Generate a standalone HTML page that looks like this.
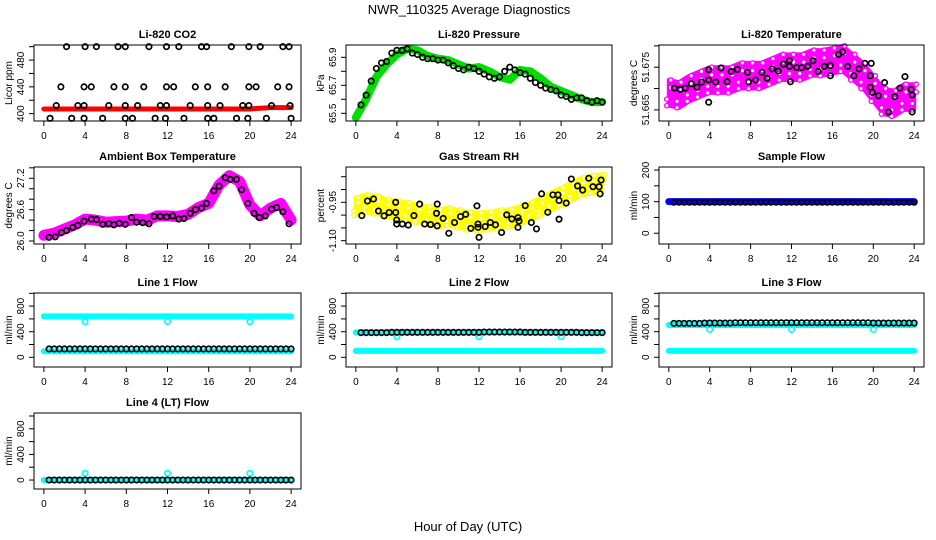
<!DOCTYPE html>
<html><head><meta charset="utf-8"><style>
html,body{margin:0;padding:0;background:#fff;}
svg{display:block;font-family:"Liberation Sans",sans-serif;}
</style></head><body>
<svg id="chart" width="936" height="540" viewBox="0 0 936 540" xmlns="http://www.w3.org/2000/svg">
<text x="469" y="14" text-anchor="middle" font-size="13">NWR_110325  Average Diagnostics</text>
<text x="468" y="531" text-anchor="middle" font-size="13">Hour of Day (UTC)</text>
</svg>
<script>
// ---------- data ----------
const hours = [0,1,2,3,4,5,6,7,8,9,10,11,12,13,14,15,16,17,18,19,20,21,22,23,24];
const halfHours = [0.5,1,1.5,2,2.5,3,3.5,4,4.5,5,5.5,6,6.5,7,7.5,8,8.5,9,9.5,10,10.5,11,11.5,12,12.5,13,13.5,14,14.5,15,15.5,16,16.5,17,17.5,18,18.5,19,19.5,20,20.5,21,21.5,22,22.5,23,23.5,24];
const xTicks = [0,4,8,12,16,20,24];

const co2Red = [407,407,407,407,407,407,407,407,407,407,407,407,407,407,407,407,407,407,407,407,407,408,409,409,409];
const co2Times = [2.2,4.0,5.1,7.2,7.9,10.2,11.9,13.1,15.3,15.8,18.2,19.9,21.0,23.2,23.8,
 1.65,3.9,4.6,6.8,7.9,9.7,11.9,12.6,14.7,15.9,17.6,19.9,20.6,22.7,23.8,
 1.2,3.3,3.9,6.3,7.9,9.1,11.3,11.9,14.2,15.9,17.1,19.3,19.9,22.1,23.9,
 0.6,2.7,3.9,5.7,7.9,8.6,10.8,11.8,13.6,15.9,16.5,18.7,19.8,21.6,24.0];
const co2Vals = [500,500,500,500,500,500,500,500,500,500,500,500,500,500,500,
 440,440,440,440,440,440,440,440,440,440,440,440,440,440,440,
 412,412,412,412,412,412,412,412,412,412,412,412,412,412,412,
 393,393,393,393,393,393,393,393,393,393,393,393,393,393,393];

const presGreen = [65.47,65.60,65.76,65.85,65.92,65.96,65.95,65.91,65.89,65.88,65.85,65.82,65.83,65.80,65.76,65.74,65.81,65.80,65.75,65.69,65.66,65.63,65.60,65.58,65.58];
const presBlack = [65.56,65.63,65.73,65.82,65.86,65.87,65.93,65.95,65.95,65.96,65.93,65.92,65.90,65.89,65.89,65.88,65.88,65.86,65.84,65.82,65.81,65.83,65.82,65.80,65.78,65.76,65.75,65.76,65.80,65.83,65.81,65.79,65.78,65.75,65.72,65.70,65.68,65.67,65.66,65.63,65.62,65.60,65.61,65.61,65.59,65.58,65.59,65.58];

const tempCenter = [51.669,51.6685,51.670,51.671,51.672,51.672,51.672,51.673,51.673,51.673,51.674,51.675,51.675,51.675,51.676,51.676,51.6765,51.677,51.675,51.673,51.670,51.667,51.6665,51.668,51.668];
const tempSpread = [0.003,0.003,0.003,0.003,0.003,0.003,0.003,0.003,0.003,0.003,0.003,0.003,0.003,0.003,0.003,0.003,0.003,0.003,0.003,0.003,0.003,0.003,0.003,0.003,0.003];
const tempTimes = [0.55,1.1,1.6,2.2,2.75,3.2,3.9,3.9,3.9,4.6,5.1,5.7,6.1,6.7,7.7,7.8,8.5,9.1,9.6,10.1,10.7,11.2,11.8,11.9,11.8,12.5,13.0,13.6,14.1,14.6,15.2,15.8,15.8,16.6,17.0,17.5,18.1,18.6,19.2,19.8,19.7,19.7,19.9,20.5,21.1,21.5,22.1,22.6,23.1,23.7,23.8,23.8];
const tempVals = [51.6701,51.6698,51.6701,51.6711,51.6703,51.6715,51.6720,51.6744,51.6668,51.6715,51.6748,51.6716,51.6740,51.6745,51.6738,51.6716,51.6720,51.6738,51.6724,51.6746,51.6741,51.6757,51.6752,51.6716,51.6766,51.6749,51.6749,51.6752,51.6765,51.6740,51.6752,51.6754,51.6730,51.6780,51.6786,51.6752,51.6730,51.6746,51.6759,51.6759,51.6730,51.6703,51.6691,51.6683,51.6714,51.6645,51.6681,51.6701,51.6728,51.6698,51.6685,51.6645];

const ambMagenta = [26.11,26.15,26.23,26.31,26.42,26.40,26.36,26.37,26.38,26.42,26.40,26.48,26.48,26.47,26.51,26.64,26.72,27.07,27.25,27.14,26.69,26.48,26.63,26.72,26.40];
const ambTimes = [0.5,1.1,1.7,2.2,2.8,3.3,3.9,4.6,5.1,5.7,6.3,6.8,7.3,7.9,8.5,9.0,9.6,10.2,10.7,11.3,11.9,12.5,13.1,13.6,14.2,14.7,15.3,15.8,16.5,17.0,17.6,18.1,18.7,19.2,19.8,20.4,20.9,21.5,22.1,22.6,23.2,23.8];
const ambBlack = [26.07,26.08,26.16,26.20,26.26,26.30,26.38,26.42,26.41,26.32,26.33,26.31,26.34,26.32,26.45,26.36,26.35,26.33,26.47,26.47,26.46,26.48,26.42,26.43,26.53,26.60,26.63,26.72,26.96,27.05,27.21,27.18,27.18,26.98,26.72,26.53,26.45,26.48,26.61,26.64,26.56,26.33];

const rhCenter = [-0.967,-0.954,-0.960,-0.973,-0.980,-0.986,-0.993,-1.002,-1.013,-1.006,-1.015,-1.023,-1.026,-1.023,-1.015,-1.013,-1.000,-0.986,-0.967,-0.947,-0.928,-0.908,-0.889,-0.880,-0.876];
const rhSpread = [0.035,0.035,0.035,0.035,0.035,0.035,0.035,0.035,0.035,0.035,0.035,0.035,0.035,0.035,0.035,0.035,0.035,0.035,0.035,0.035,0.035,0.035,0.035,0.035,0.035];
const rhTimes = [0.58,1.13,1.72,2.2,2.75,3.24,3.88,3.88,3.98,3.98,4.53,5.11,5.66,6.21,6.7,7.28,7.86,7.93,7.93,8.51,9.06,9.61,10.2,10.7,11.2,11.8,11.9,11.9,12.0,12.6,13.1,13.6,14.2,14.7,15.2,15.8,15.9,15.8,16.5,17.1,17.6,18.1,18.7,19.2,19.7,19.8,19.8,20.5,21.0,21.6,22.1,22.7,23.1,23.7,23.9,23.8];
const rhVals = [-1.002,-0.945,-0.937,-0.984,-1.003,-0.990,-0.950,-0.990,-1.019,-1.035,-1.035,-1.039,-1.002,-0.957,-1.035,-1.037,-0.993,-1.042,-0.957,-1.013,-1.071,-1.029,-1.006,-0.997,-1.052,-0.964,-1.048,-1.035,-1.087,-1.045,-1.029,-1.038,-1.068,-0.999,-1.015,-1.010,-1.023,-1.048,-0.963,-1.029,-1.054,-0.917,-0.989,-0.921,-0.921,-0.943,-1.016,-0.953,-0.859,-0.886,-0.902,-0.856,-0.889,-0.889,-0.863,-0.917];

const sampleBlue = [100,100,100,100,100,100,100,100,100,100,100,100,100,100,100,100,100,100,100,100,100,100,100,100,100];
const sampleBlack = [98,98,98,98,98,98,98,98,98,98,98,98,98,98,98,98,98,98,98,98,98,98,98,98,98,98,98,98,98,98,98,98,98,98,98,98,98,98,98,98,98,98,98,98,98,98,98,98];

const dipTimes = [4,12,20];
const line1Upper = [640,640,640,640,640,640,640,640,640,640,640,640,640,640,640,640,640,640,640,640,640,640,640,640,640];
const line1Lower = [95,95,95,95,95,95,95,95,95,95,95,95,95,95,95,95,95,95,95,95,95,95,95,95,95];
const line1Dips = [555,560,555];
const line1Black = [130,130,130,130,130,130,130,130,130,130,130,130,130,130,130,130,130,130,130,130,130,130,130,130,130,130,130,130,130,130,130,130,130,130,130,130,130,130,130,130,130,130,130,130,130,130,130,130];
const line2Upper = [390,390,390,390,390,390,390,390,390,390,390,390,390,390,390,390,390,390,390,390,390,390,390,390,390];
const line2Lower = [100,100,100,100,100,100,100,100,100,100,100,100,100,100,100,100,100,100,100,100,100,100,100,100,100];
const line2Dips = [320,320,320];
const line2Black = [385,385,385,385,385,385,390,390,390,390,390,390,390,390,390,390,390,390,390,390,390,390,390,390,395,395,395,395,395,395,395,395,390,390,390,390,390,390,390,390,390,390,390,385,385,385,385,385];
const line3Upper = [505,505,505,505,505,505,505,505,505,505,505,505,505,505,505,505,505,505,505,505,505,505,505,505,505];
const line3Lower = [100,100,100,100,100,100,100,100,100,100,100,100,100,100,100,100,100,100,100,100,100,100,100,100,100];
const line3Dips = [435,435,435];
const line3Black = [530,530,530,530,530,530,535,535,535,535,535,535,540,540,540,540,540,540,540,540,540,540,540,540,540,540,540,540,540,540,540,540,540,540,540,540,540,540,540,535,535,535,535,535,535,535,535,535];
const line4Level = [0,0,0,0,0,0,0,0,0,0,0,0,0,0,0,0,0,0,0,0,0,0,0,0,0];
const line4Dips = [105,105,105];
const line4Black = [0,0,0,0,0,0,0,0,0,0,0,0,0,0,0,0,0,0,0,0,0,0,0,0,0,0,0,0,0,0,0,0,0,0,0,0,0,0,0,0,0,0,0,0,0,0,0,0];

// ---------- drawing ----------
const NS = "http://www.w3.org/2000/svg";
const svg = document.getElementById('chart');
const cols = [{l:34,r:301},{l:346,r:612},{l:659,r:924}];
const rows = [{t:45,b:121},{t:167,b:244},{t:293,b:367},{t:413,b:489}];
const XD = [-0.96,24.96];

function mk(tag, parent){ const e=document.createElementNS(NS,tag); (parent||svg).appendChild(e); return e; }

function panel(name,title,ci,ri,ylim,yticks,ylabels,ylab,fmt){
  const c=cols[ci], r=rows[ri];
  const g=mk('g');
  
  
  const sx=v=>c.l+(v-XD[0])/(XD[1]-XD[0])*(c.r-c.l);
  const sy=v=>r.b-(v-ylim[0])/(ylim[1]-ylim[0])*(r.b-r.t);
  const plot=mk('g',g);
  
  
  const box=mk('rect',g);
  box.setAttribute('x',c.l);box.setAttribute('y',r.t);box.setAttribute('width',c.r-c.l);box.setAttribute('height',r.b-r.t);
  box.setAttribute('fill','none');box.setAttribute('stroke','#000');box.setAttribute('stroke-width','1');
  
  
  const t=mk('text',g);
  t.setAttribute('x',(c.l+c.r)/2);t.setAttribute('y',r.t-7);t.setAttribute('text-anchor','middle');
  t.setAttribute('font-size','11');t.setAttribute('font-weight','bold');t.textContent=title;
  
  
  const xa=mk('g',g);
  
  
  xTicks.forEach(v=>{
    const x=sx(v);
    const l=mk('line',xa);
    l.setAttribute('x1',x);l.setAttribute('x2',x);l.setAttribute('y1',r.b);l.setAttribute('y2',r.b+5);l.setAttribute('stroke','#000');
    const tx=mk('text',xa);
    tx.setAttribute('x',x);tx.setAttribute('y',r.b+18);tx.setAttribute('text-anchor','middle');tx.setAttribute('font-size','10');
    tx.textContent=v;
    
    
  });
  const ya=mk('g',g);
  
  
  yticks.forEach(v=>{
    const y=sy(v);
    const l=mk('line',ya);
    l.setAttribute('x1',c.l-5);l.setAttribute('x2',c.l);l.setAttribute('y1',y);l.setAttribute('y2',y);l.setAttribute('stroke','#000');
  });
  ylabels.forEach(v=>{
    const y=sy(v), x=c.l-10;
    const tx=mk('text',ya);
    tx.setAttribute('x',x);tx.setAttribute('y',y);tx.setAttribute('text-anchor','middle');tx.setAttribute('font-size','10');
    tx.setAttribute('font-stretch','condensed');
    tx.setAttribute('transform','rotate(-90 '+x+' '+y+')');
    tx.textContent=fmt(v);
    
    
  });
  const yt=mk('text',g);
  const yx=c.l-22, yy=(r.t+r.b)/2;
  yt.setAttribute('x',yx);yt.setAttribute('y',yy);yt.setAttribute('text-anchor','middle');yt.setAttribute('font-size','10');
  yt.setAttribute('transform','rotate(-90 '+yx+' '+yy+')');yt.textContent=ylab;
  
  
  return {g:plot,sx,sy};
}

function band(P,times,vals,color,w,name){
  const p=mk('polyline',P.g);
  p.setAttribute('points',times.map((t,i)=>P.sx(t)+','+P.sy(vals[i])).join(' '));
  p.setAttribute('fill','none');p.setAttribute('stroke',color);p.setAttribute('stroke-width',w);
  p.setAttribute('stroke-linejoin','round');p.setAttribute('stroke-linecap','round');
  
  
}
function cloud(P,times,center,spread,color,name){
  const p=mk('polygon',P.g);
  const up=times.map((t,i)=>P.sx(t)+','+P.sy(center[i]+spread[i]));
  const dn=times.map((t,i)=>P.sx(t)+','+P.sy(center[i]-spread[i])).reverse();
  p.setAttribute('points',up.concat(dn).join(' '));
  p.setAttribute('fill',color);p.setAttribute('stroke',color);p.setAttribute('stroke-width','4');p.setAttribute('stroke-linejoin','round');
  
  
  times.forEach((t,i)=>{
    [1,-1,0.4,-0.5].forEach(k=>{
      const c=mk('circle',P.g);
      c.setAttribute('cx',P.sx(t)+(k>0?2:-2));c.setAttribute('cy',P.sy(center[i]+k*spread[i]));c.setAttribute('r','2.2');
      c.setAttribute('fill','#fff');c.setAttribute('stroke',color);c.setAttribute('stroke-width','1.3');
      
      
    });
  });
}
function pts(P,times,vals,color,name){
  times.forEach((t,i)=>{
    const c=mk('circle',P.g);
    c.setAttribute('cx',P.sx(t));c.setAttribute('cy',P.sy(vals[i]));c.setAttribute('r','2.7');
    c.setAttribute('fill','none');c.setAttribute('stroke',color);c.setAttribute('stroke-width','1.7');
    
    
  });
}

const f0=v=>String(v), f1=v=>v.toFixed(1), f2=v=>v.toFixed(2), f3=v=>v.toFixed(3);

let P=panel('co2','Li-820 CO2',0,0,[389,502.5],[400,420,440,460,480,500],[400,440,480],'Licor ppm',f0);
band(P,hours,co2Red,'#ff0000',5,'co2-red-band');
pts(P,co2Times,co2Vals,'#000','co2-point');
P=panel('pressure','Li-820 Pressure',1,0,[65.445,65.988],[65.5,65.6,65.7,65.8,65.9],[65.5,65.7,65.9],'kPa',f1);
band(P,hours,presGreen,'#00dd00',8,'pressure-green-band');
pts(P,halfHours,presBlack,'#000','pressure-point');
P=panel('li820-temp','Li-820 Temperature',2,0,[51.6624,51.6802],[51.665,51.670,51.675,51.680],[51.665,51.675],'degrees C',f3);
cloud(P,hours,tempCenter,tempSpread,'#ff00ff','temp-magenta-cloud');
pts(P,tempTimes,tempVals,'#000','temp-point');
P=panel('ambient','Ambient Box Temperature',0,1,[25.943,27.416],[26.0,26.2,26.4,26.6,26.8,27.0,27.2,27.4],[26.0,26.6,27.2],'degrees C',f1);
band(P,hours,ambMagenta,'#ff00ff',11,'ambient-magenta-band');
pts(P,ambTimes,ambBlack,'#000','ambient-point');
P=panel('rh','Gas Stream RH',1,1,[-1.113,-0.812],[-1.10,-1.05,-1.00,-0.95,-0.90,-0.85],[-1.10,-0.95],'percent',f2);
cloud(P,hours,rhCenter,rhSpread,'#ffff00','rh-yellow-cloud');
pts(P,rhTimes,rhVals,'#000','rh-point');
P=panel('sample-flow','Sample Flow',2,1,[-34,209.5],[0,50,100,150,200],[0,100,200],'ml/min',f0);
band(P,hours,sampleBlue,'#0000ff',7,'sample-blue-band');
pts(P,halfHours,sampleBlack,'#000','sample-point');
const flowT=[0,200,400,600,800,1000], flowL=[0,400,800];
P=panel('line1','Line 1 Flow',0,2,[-152,1005],flowT,flowL,'ml/min',f0);
band(P,hours,line1Upper,'#00ffff',6,'line1-cyan-upper');
band(P,hours,line1Lower,'#00ffff',6,'line1-cyan-lower');
pts(P,dipTimes,line1Dips,'#00ffff','line1-cyan-dip');
pts(P,halfHours,line1Black,'#000','line1-point');
P=panel('line2','Line 2 Flow',1,2,[-152,1005],flowT,flowL,'ml/min',f0);
band(P,hours,line2Upper,'#00ffff',6,'line2-cyan-upper');
band(P,hours,line2Lower,'#00ffff',6,'line2-cyan-lower');
pts(P,dipTimes,line2Dips,'#00ffff','line2-cyan-dip');
pts(P,halfHours,line2Black,'#000','line2-point');
P=panel('line3','Line 3 Flow',2,2,[-152,1005],flowT,flowL,'ml/min',f0);
band(P,hours,line3Upper,'#00ffff',6,'line3-cyan-upper');
band(P,hours,line3Lower,'#00ffff',6,'line3-cyan-lower');
pts(P,dipTimes,line3Dips,'#00ffff','line3-cyan-dip');
pts(P,halfHours,line3Black,'#000','line3-point');
P=panel('line4','Line 4 (LT) Flow',0,3,[-140,1047],flowT,flowL,'ml/min',f0);
band(P,hours,line4Level,'#00ffff',6,'line4-cyan-band');
pts(P,dipTimes,line4Dips,'#00ffff','line4-cyan-dip');
pts(P,halfHours,line4Black,'#000','line4-point');
</script>
</body></html>
